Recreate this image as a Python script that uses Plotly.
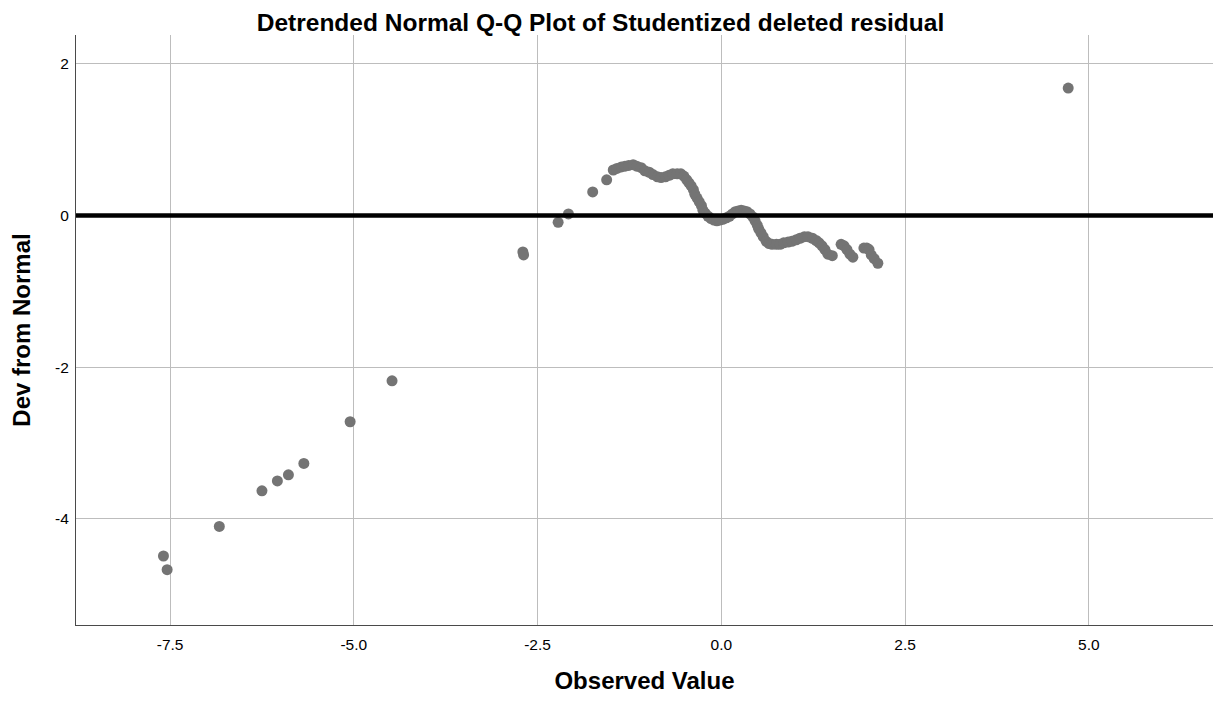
import plotly.graph_objects as go

observed = [
    -7.59, -7.54, -6.83, -6.25, -6.04, -5.89, -5.68, -5.05, -4.48,
    -2.70, -2.69, -2.22, -2.08, -1.75, -1.56,
    -1.47, -1.42, -1.36, -1.31, -1.26, -1.20, -1.15, -1.09, -1.04, -0.98,
    -0.93, -0.87, -0.82, -0.76, -0.71, -0.66, -0.60, -0.55, -0.51, -0.47,
    -0.44, -0.41, -0.38, -0.36, -0.33, -0.30, -0.27, -0.25, -0.22, -0.18,
    -0.14, -0.10, -0.06, -0.02, 0.02, 0.07, 0.11, 0.15, 0.19, 0.23,
    0.27, 0.31, 0.35, 0.39, 0.43, 0.46, 0.49, 0.51, 0.54, 0.57,
    0.61, 0.65, 0.69, 0.75, 0.80, 0.85, 0.91, 0.96, 1.02, 1.07,
    1.13, 1.18, 1.24, 1.29, 1.33, 1.37, 1.41, 1.45, 1.51,
    1.63, 1.67, 1.71, 1.75, 1.79,
    1.94, 1.98, 2.01, 2.04, 2.08, 2.13,
    4.72,
]
dev_from_normal = [
    -4.49, -4.67, -4.10, -3.63, -3.50, -3.42, -3.27, -2.72, -2.18,
    -0.48, -0.52, -0.09, 0.02, 0.31, 0.47,
    0.60, 0.62, 0.64, 0.65, 0.66, 0.67, 0.65, 0.63, 0.59, 0.57,
    0.54, 0.51, 0.50, 0.51, 0.53, 0.55, 0.55, 0.55, 0.52, 0.47,
    0.43, 0.39, 0.34, 0.28, 0.23, 0.18, 0.13, 0.07, 0.03, -0.01,
    -0.04, -0.06, -0.07, -0.06, -0.05, -0.03, -0.01, 0.02, 0.05, 0.06,
    0.07, 0.06, 0.05, 0.02, -0.02, -0.07, -0.13, -0.18, -0.23, -0.28,
    -0.34, -0.37, -0.38, -0.38, -0.38, -0.36, -0.35, -0.34, -0.32, -0.30,
    -0.28, -0.28, -0.30, -0.33, -0.36, -0.40, -0.45, -0.51, -0.53,
    -0.38, -0.40, -0.45, -0.51, -0.55,
    -0.43, -0.43, -0.45, -0.52, -0.57, -0.63,
    1.68,
]

x_ticks = [-7.5, -5.0, -2.5, 0.0, 2.5, 5.0]
x_tick_labels = ["-7.5", "-5.0", "-2.5", "0.0", "2.5", "5.0"]
y_ticks = [-4, -2, 0, 2]
y_tick_labels = ["-4", "-2", "0", "2"]

font_family = "Arial, Liberation Sans, sans-serif"

fig = go.Figure()
fig.add_trace(go.Scatter(
    x=observed,
    y=dev_from_normal,
    mode="markers",
    marker=dict(size=11, color="rgb(116,116,116)", line=dict(width=0)),
    showlegend=False,
))

# reference line at zero deviation
fig.add_hline(y=0, line=dict(color="black", width=4.5), layer="above")

# the page body adds 8px around the plot div, so the figure is sized to fit inside it
fig.update_layout(
    width=1205,
    height=686,
    paper_bgcolor="white",
    plot_bgcolor="white",
    margin=dict(l=68, r=0, t=27, b=69, autoexpand=False),
    font=dict(family=font_family, color="black"),
    title=dict(
        text="<b>Detrended Normal Q-Q Plot of Studentized deleted residual</b>",
        x=0.4917, xref="container", xanchor="center",
        y=0.991, yref="container", yanchor="top",
        font=dict(size=24.5, color="black"),
        automargin=False,
    ),
    xaxis=dict(
        range=[-8.78, 6.69],
        tickvals=x_ticks,
        ticktext=x_tick_labels,
        tickfont=dict(size=15.5),
        showgrid=True,
        gridcolor="#bdbdbd",
        gridwidth=1,
        zeroline=False,
        showline=True,
        linecolor="#4a4a4a",
        linewidth=1,
        ticks="",
        ticklabelstandoff=5,
        automargin=False,
        title=dict(text="<b>Observed Value</b>", font=dict(size=24), standoff=24),
    ),
    yaxis=dict(
        range=[-5.40, 2.38],
        tickvals=y_ticks,
        ticktext=y_tick_labels,
        tickfont=dict(size=15.5),
        showgrid=True,
        gridcolor="#bdbdbd",
        gridwidth=1,
        zeroline=False,
        showline=True,
        linecolor="#4a4a4a",
        linewidth=1,
        ticks="",
        ticklabelstandoff=3,
        automargin=False,
        title=dict(text="<b>Dev from Normal</b>", font=dict(size=24), standoff=28),
    ),
)

fig.write_html("out.html")
